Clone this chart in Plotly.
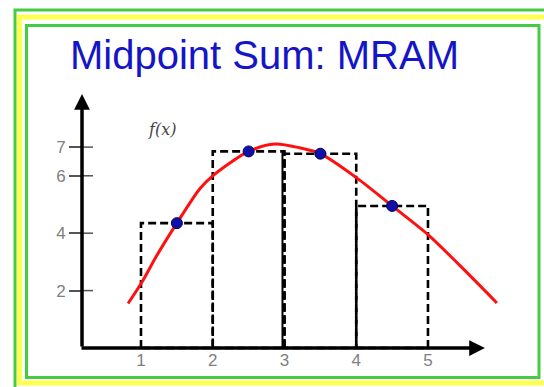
import plotly.graph_objects as go

# Midpoint (MRAM) rectangles on [1, 5] with width 1
rect_left = [1, 2, 3, 4]
rect_right = [2, 3, 4, 5]
mid_x = [1.5, 2.5, 3.5, 4.5]
mid_h = [4.35, 6.85, 6.77, 4.95]

# f(x) sampled along the drawn curve
curve_x = [0.82, 1.01, 1.22, 1.5, 1.82, 2.0, 2.5, 2.87, 3.22, 3.5, 4.02, 4.5, 5.0, 5.45, 5.96]
curve_y = [1.55, 2.28, 3.22, 4.35, 5.55, 6.0, 6.85, 7.11, 6.97, 6.77, 5.9, 4.95, 3.95, 2.86, 1.57]

x_ticks = [1, 2, 3, 4, 5]
y_ticks = [2, 4, 6, 7]

title_text = "Midpoint Sum: MRAM"
func_label = "<i>f(x)</i>"

W, H = 544, 387
X_RANGE = [-0.965, 6.617]
Y_RANGE = [-1.359, 12.125]
Y_AXIS_X = 0.178      # where the vertical axis crosses
Y_AXIS_TOP = 8.85
X_AXIS_START = 0.15
X_AXIS_END = 5.794


def px_x(p):
    return p / W


def px_y(p):
    return 1 - p / H


fig = go.Figure()

# dashed midpoint rectangles
for x0, x1, h in zip(rect_left, rect_right, mid_h):
    fig.add_trace(go.Scatter(
        x=[x0, x0, x1, x1, x0], y=[0, h, h, 0, 0],
        mode="lines", line=dict(color="black", width=2.6, dash="8px,4px"),
        hoverinfo="skip", showlegend=False))

# the function curve
fig.add_trace(go.Scatter(
    x=curve_x, y=curve_y, mode="lines",
    line=dict(color="#ff1010", width=3, shape="spline", smoothing=0.8),
    hoverinfo="skip", showlegend=False))

# midpoint samples
fig.add_trace(go.Scatter(
    x=mid_x, y=mid_h, mode="markers",
    marker=dict(color="#1010a8", size=11, line=dict(color="#000060", width=1)),
    hoverinfo="skip", showlegend=False))

shapes = []

# page frame: outer green, yellow band, inner green
shapes.append(dict(type="rect", xref="paper", yref="paper", layer="below",
                   x0=px_x(15), x1=px_x(570), y0=px_y(10), y1=px_y(410),
                   line=dict(color="#44cc44", width=3), fillcolor="rgba(0,0,0,0)"))
shapes.append(dict(type="rect", xref="paper", yref="paper", layer="below",
                   x0=px_x(19.5), x1=px_x(570), y0=px_y(17), y1=px_y(383),
                   line=dict(color="#ffff50", width=5), fillcolor="rgba(0,0,0,0)"))
shapes.append(dict(type="rect", xref="paper", yref="paper", layer="below",
                   x0=px_x(26.5), x1=px_x(539), y0=px_y(25.5), y1=px_y(377.5),
                   line=dict(color="#44cc44", width=3), fillcolor="white"))

# solid edges between neighbouring rectangles
shapes.append(dict(type="line", xref="x", yref="y", xsizemode="pixel", xanchor=rect_right[1],
                   x0=-2, x1=-2, y0=0, y1=mid_h[1], line=dict(color="black", width=2)))
shapes.append(dict(type="line", xref="x", yref="y", xsizemode="pixel", xanchor=rect_left[3],
                   x0=0, x1=0, y0=0, y1=mid_h[3], line=dict(color="black", width=2)))

# right half of the y tick marks (crossing the axis)
for v in y_ticks:
    shapes.append(dict(type="line", xref="x", yref="y", xsizemode="pixel", xanchor=Y_AXIS_X,
                       x0=0, x1=11, y0=v, y1=v, line=dict(color="#555555", width=1.5)))

annotations = [
    # axes with arrow heads
    dict(x=Y_AXIS_X, y=Y_AXIS_TOP, ax=Y_AXIS_X, ay=0, xref="x", yref="y", axref="x", ayref="y",
         text="", showarrow=True, arrowhead=2, arrowsize=0.9, arrowwidth=3.5, arrowcolor="black",
         standoff=0, startstandoff=0),
    dict(x=X_AXIS_END, y=0, ax=X_AXIS_START, ay=0, xref="x", yref="y", axref="x", ayref="y",
         text="", showarrow=True, arrowhead=2, arrowsize=0.9, arrowwidth=3.5, arrowcolor="black",
         standoff=0, startstandoff=0),
    dict(x=1.29, y=7.63, xref="x", yref="y", text=func_label, showarrow=False,
         font=dict(family="DejaVu Serif", size=16, color="#444444")),
    dict(x=px_x(264), y=px_y(55), xref="paper", yref="paper", text=title_text, showarrow=False,
         xanchor="center", yanchor="middle",
         font=dict(family="Liberation Sans", size=40, color="#1515c8")),
]

fig.update_layout(
    width=W, height=H,
    margin=dict(l=0, r=0, t=0, b=0),
    paper_bgcolor="white", plot_bgcolor="rgba(0,0,0,0)",
    shapes=shapes, annotations=annotations,
    xaxis=dict(range=X_RANGE, domain=[0, 1], anchor="free", position=px_y(348),
               showgrid=False, zeroline=False, showline=False,
               tickvals=x_ticks, ticktext=[str(t) for t in x_ticks], ticks="",
               tickfont=dict(family="Liberation Sans", size=17, color="#808080"),
               fixedrange=True),
    yaxis=dict(range=Y_RANGE, domain=[0, 1], anchor="free", position=px_x(82),
               showgrid=False, zeroline=False, showline=False,
               tickvals=y_ticks, ticktext=[str(t) for t in y_ticks],
               ticks="outside", ticklen=13, tickwidth=1.5, tickcolor="#555555",
               tickfont=dict(family="Liberation Sans", size=17, color="#808080"),
               fixedrange=True),
)

fig.write_html("out.html")
